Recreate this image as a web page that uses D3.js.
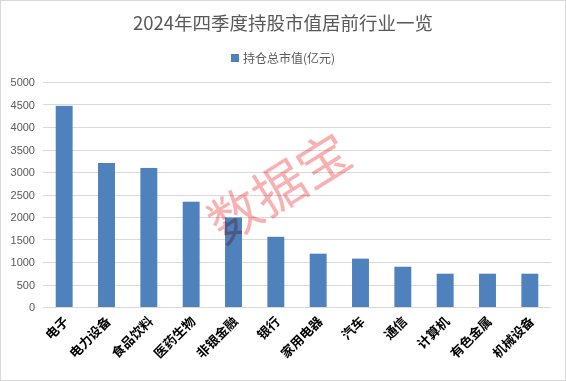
<!DOCTYPE html>
<html><head><meta charset="utf-8">
<script src="https://cdn.jsdelivr.net/npm/d3@7"></script>
<style>
html,body{margin:0;padding:0;background:#fff;}
svg{display:block;}
</style></head>
<body>
<script>
const categories = ["电子","电力设备","食品饮料","医药生物","非银金融","银行","家用电器","汽车","通信","计算机","有色金属","机械设备"];
const values = [4470, 3200, 3090, 2340, 1990, 1560, 1185, 1075, 895, 740, 740, 740];
const yTicks = [0,500,1000,1500,2000,2500,3000,3500,4000,4500,5000];
const title = "2024年四季度持股市值居前行业一览";
const seriesName = "持仓总市值(亿元)";
const watermark = "数据宝";

const W = 566, H = 381;
const svg = d3.select("body").append("svg").attr("width", W).attr("height", H);
svg.append("rect").attr("x",0.5).attr("y",0.5).attr("width",W-1).attr("height",H-1)
  .attr("fill","#fff").attr("stroke","#d9d9d9");

const m = {left:43, right:551, top:82, bottom:307};
const x = d3.scaleBand().domain(categories).range([m.left, m.right]).paddingInner(0.6).paddingOuter(0.3);
const y = d3.scaleLinear().domain([0,5000]).range([m.bottom, m.top]);

// grid
svg.append("g").selectAll("line").data(yTicks).join("line")
  .attr("x1", m.left).attr("x2", m.right)
  .attr("y1", d=>Math.round(y(d))+0.5).attr("y2", d=>Math.round(y(d))+0.5)
  .attr("stroke","#d9d9d9").attr("stroke-width",1);

// y axis labels
const yAxis = d3.axisLeft(y).tickValues(yTicks).tickFormat(d3.format("d")).tickSize(0).tickPadding(8);
const gy = svg.append("g").attr("transform",`translate(${m.left},0)`).call(yAxis);
gy.select(".domain").remove();
gy.selectAll("text").attr("fill","#595959").style("font-family","'Liberation Sans', Arial, sans-serif").style("font-size","11px");

// bars
svg.append("g").selectAll("rect").data(values).join("rect")
  .attr("x",(d,i)=>x(categories[i])).attr("width",x.bandwidth())
  .attr("y",d=>y(d)).attr("height",d=>y(0)-y(d))
  .attr("fill","#4f81bd");

// x labels
const xAxis = d3.axisBottom(x).tickSize(0).tickPadding(0);
const gx = svg.append("g").attr("transform",`translate(0,${m.bottom})`).call(xAxis);
gx.select(".domain").remove();
gx.selectAll("text")
  .attr("text-anchor","end")
  .attr("dy","0.35em").attr("y",0)
  .attr("transform","translate(2,12) rotate(-45)")
  .attr("fill","#000")
  .style("font-family","'Noto Sans CJK SC', sans-serif")
  .style("font-weight","bold")
  .style("font-size","13px");

// title
svg.append("text").attr("x",W/2).attr("y",30).attr("text-anchor","middle")
  .attr("fill","#595959").style("font-family","'Noto Sans CJK SC', sans-serif").style("font-size","18.5px")
  .text(title);

// legend
svg.append("rect").attr("x",231).attr("y",54).attr("width",8).attr("height",8).attr("fill","#4f81bd");
svg.append("text").attr("x",243).attr("y",62.5).attr("fill","#595959")
  .style("font-family","'Noto Sans CJK SC', sans-serif").style("font-size","12px").text(seriesName);

// watermark
svg.append("text").attr("transform","translate(282,192) rotate(-32)")
  .attr("text-anchor","middle").attr("dominant-baseline","middle")
  .attr("fill","rgb(247,150,150)").attr("fill-opacity",0.75)
  .style("mix-blend-mode","multiply")
  .style("font-family","'Noto Sans CJK SC', sans-serif").style("font-size","52px").style("font-weight","normal")
  .text(watermark);
</script>
</body></html>
